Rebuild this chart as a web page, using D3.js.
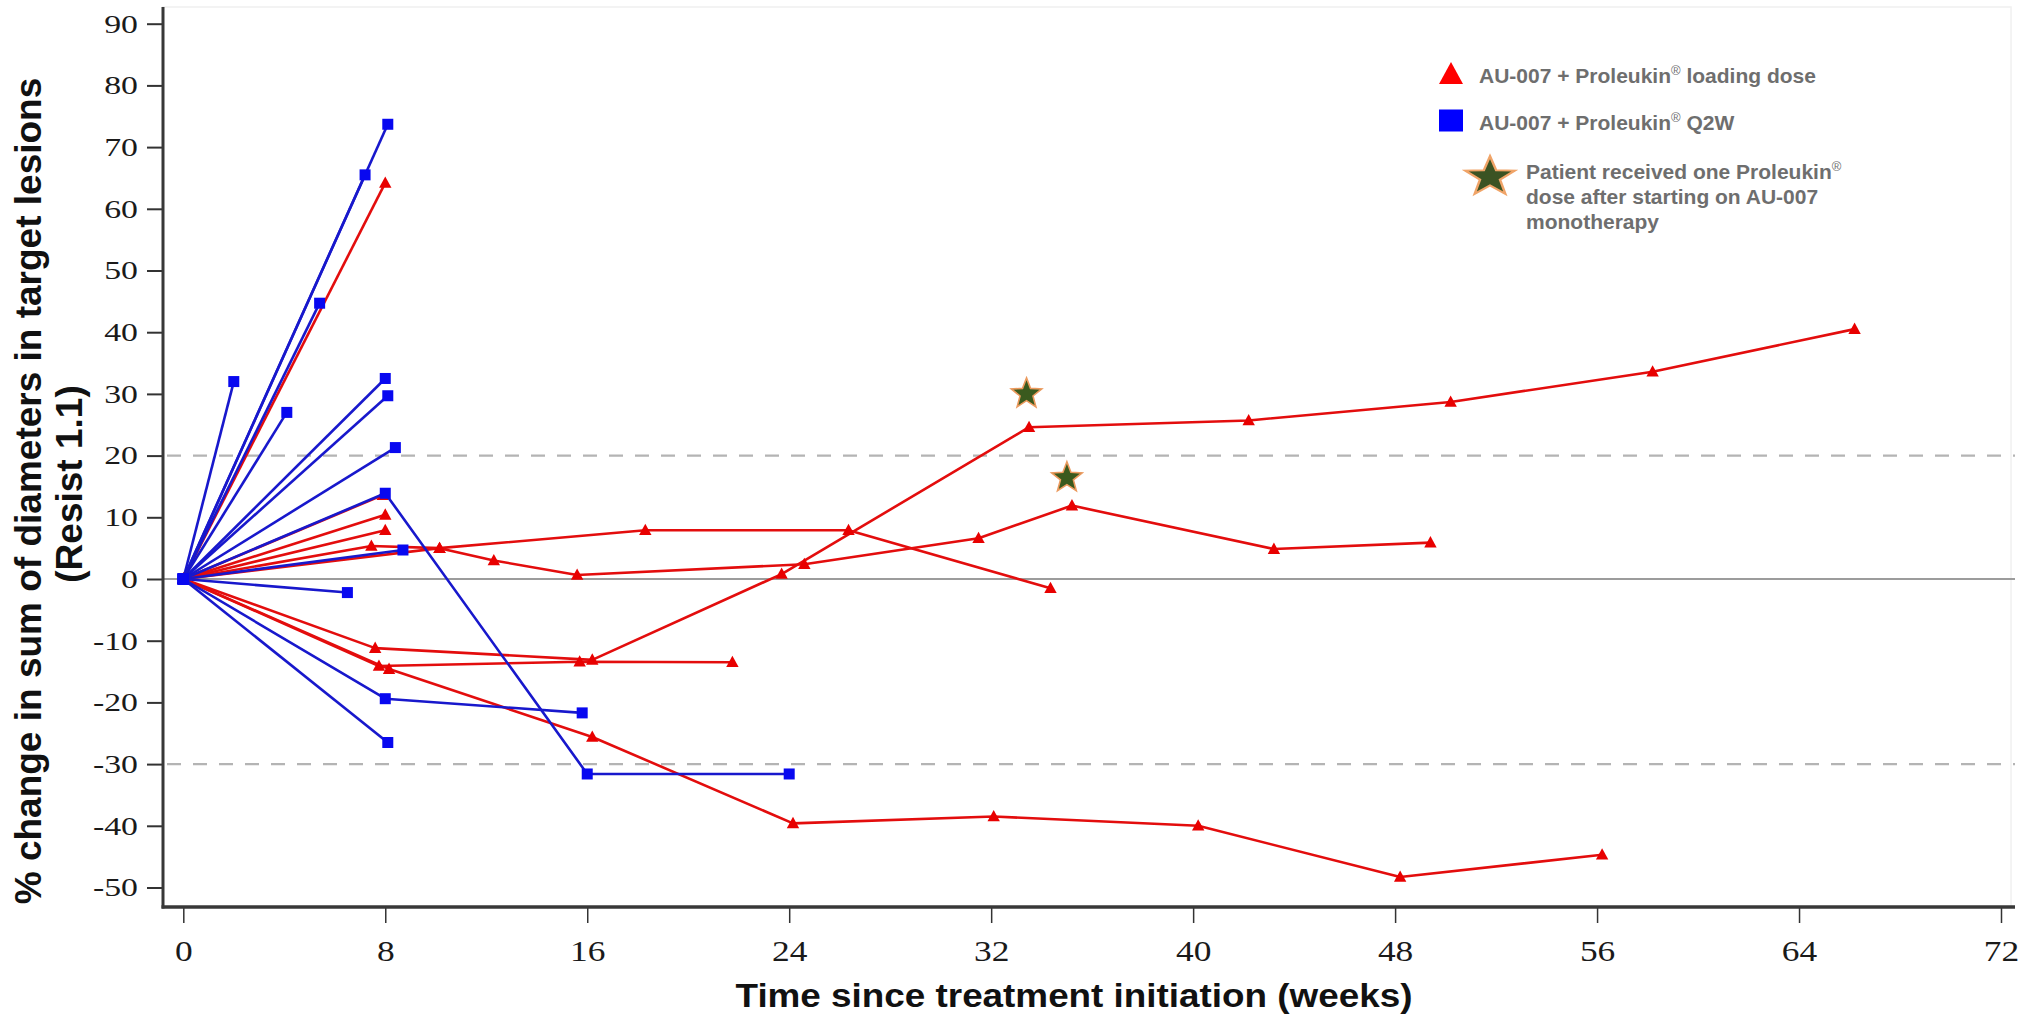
<!DOCTYPE html>
<html>
<head>
<meta charset="UTF-8">
<title>AU-007 target lesions</title>
<script src="https://cdn.jsdelivr.net/npm/d3@7"></script>
<style>
  body { margin: 0; background: #fff; }
  svg { display: block; }
</style>
</head>
<body>
<div id="chart"></div>
<script>
// [weeks, % change] per patient, AU-007 + Proleukin loading dose (red)
const loadingDose = [
  [[0, 0], [8.0, 64.2]],
  [[0, 0], [7.9, 13.6]],
  [[0, 0], [8.0, 10.4]],
  [[0, 0], [8.0, 7.9]],
  [[0, 0], [7.45, 5.35], [10.15, 5.0], [18.3, 7.9], [26.35, 7.9], [34.35, -1.5]],
  [[0, 0], [10.15, 5.0], [12.3, 3.0], [15.6, 0.65], [24.6, 2.4], [31.5, 6.6], [35.2, 11.9], [43.2, 4.85], [49.4, 5.9]],
  [[0, 0], [7.6, -11.2], [16.2, -13.1], [23.7, 0.8], [33.5, 24.6], [42.2, 25.7], [50.2, 28.7], [58.2, 33.6], [66.2, 40.5]],
  [[0, 0], [7.75, -14.1], [15.7, -13.4], [21.75, -13.5]],
  [[0, 0], [8.15, -14.6], [16.2, -25.6], [24.15, -39.6], [32.1, -38.5], [40.2, -40.0], [48.2, -48.3], [56.2, -44.7]]
];

// AU-007 + Proleukin Q2W (blue)
const q2w = [
  [[0, 0], [2.0, 32.0]],
  [[0, 0], [4.1, 27.0]],
  [[0, 0], [5.4, 44.7]],
  [[0, 0], [7.2, 65.5]],
  [[0, 0], [8.1, 73.7]],
  [[0, 0], [8.0, 32.5]],
  [[0, 0], [8.1, 29.7]],
  [[0, 0], [8.4, 21.3]],
  [[0, 0], [8.0, 13.9], [16.0, -31.6], [24.0, -31.6]],
  [[0, 0], [8.7, 4.7]],
  [[0, 0], [6.5, -2.2]],
  [[0, 0], [8.0, -19.4], [15.8, -21.7]],
  [[0, 0], [8.1, -26.5]]
];

// one Proleukin dose after AU-007 monotherapy
const stars = [[33.4, 30.0], [35.0, 16.4]];

const xTicks = [0, 8, 16, 24, 32, 40, 48, 56, 64, 72];
const yTicks = [-50, -40, -30, -20, -10, 0, 10, 20, 30, 40, 50, 60, 70, 80, 90];
const dashedLines = [20, -30];
const legendLabels = ["AU-007 + Proleukin", "AU-007 + Proleukin", "Patient received one Proleukin"];

const red = "#e30d0d", blue = "#1818cc";

const svg = d3.select("#chart").append("svg")
  .attr("width", 2023)
  .attr("height", 1019)
  .style("background", "#fff");

const x = d3.scaleLinear().domain([0, 72]).range([183.3, 2001]);
const y = d3.scaleLinear().domain([-50, 90]).range([887.5, 23.7]);

const plotLeft = 163, plotRight = 2015, plotTop = 7, plotBottom = 907;

// faint plot frame
svg.append("rect")
  .attr("x", plotLeft).attr("y", plotTop)
  .attr("width", plotRight - plotLeft - 4).attr("height", plotBottom - plotTop)
  .attr("fill", "none").attr("stroke", "#f0f0f0").attr("stroke-width", 1.5);

// reference lines
svg.append("line")
  .attr("x1", plotLeft).attr("x2", plotRight)
  .attr("y1", y(0)).attr("y2", y(0))
  .attr("stroke", "#9c9c9c").attr("stroke-width", 2);

dashedLines.forEach(v => {
  svg.append("line")
    .attr("x1", plotLeft + 4).attr("x2", plotRight)
    .attr("y1", y(v)).attr("y2", y(v))
    .attr("stroke", "#b4b4b4").attr("stroke-width", 2.2)
    .attr("stroke-dasharray", "14,12");
});

// y axis
const yAxis = svg.append("g")
  .attr("transform", `translate(${plotLeft},0)`)
  .call(d3.axisLeft(y).tickValues(yTicks).tickSize(16).tickPadding(9).tickFormat(d3.format("d")));
yAxis.select(".domain").remove();
yAxis.selectAll(".tick line").attr("stroke", "#333").attr("stroke-width", 2);
yAxis.selectAll(".tick text")
  .attr("x", -25 / 1.3)
  .attr("transform", "scale(1.3,1)")
  .attr("fill", "#1a1a1a")
  .style("font-family", "'Liberation Serif', 'Times New Roman', serif")
  .style("font-size", "26px")
  .text(d => d < 0 ? "-" + Math.abs(d) : d);

// x axis
const xAxis = svg.append("g")
  .attr("transform", `translate(0,${plotBottom})`)
  .call(d3.axisBottom(x).tickValues(xTicks).tickSize(16).tickPadding(17));
xAxis.select(".domain").remove();
xAxis.selectAll(".tick line").attr("stroke", "#333").attr("stroke-width", 1.5);
xAxis.selectAll(".tick text")
  .attr("transform", "scale(1.2,1)")
  .attr("fill", "#1a1a1a")
  .style("font-family", "'Liberation Serif', 'Times New Roman', serif")
  .style("font-size", "29.5px");

// axis lines
svg.append("line")
  .attr("x1", plotLeft).attr("x2", plotLeft)
  .attr("y1", plotTop).attr("y2", plotBottom + 1.5)
  .attr("stroke", "#383838").attr("stroke-width", 3);
svg.append("line")
  .attr("x1", plotLeft - 1.5).attr("x2", plotRight)
  .attr("y1", plotBottom).attr("y2", plotBottom)
  .attr("stroke", "#383838").attr("stroke-width", 3.5);

// series
const line = d3.line().x(d => x(d[0])).y(d => y(d[1]));
const triPath = "M0,-6.5L6.2,4.8L-6.2,4.8Z";

function drawRed(series) {
  series.forEach(s => {
    svg.append("path").datum(s)
      .attr("fill", "none").attr("stroke", red).attr("stroke-width", 2.6)
      .attr("stroke-linejoin", "round")
      .attr("d", line);
  });
  series.forEach(s => {
    svg.append("g").selectAll("path").data(s).join("path")
      .attr("d", triPath)
      .attr("transform", d => `translate(${x(d[0])},${y(d[1])})`)
      .attr("fill", "#e80000");
  });
}

function drawBlue(series) {
  series.forEach(s => {
    svg.append("path").datum(s)
      .attr("fill", "none").attr("stroke", blue).attr("stroke-width", 2.6)
      .attr("stroke-linejoin", "round")
      .attr("d", line);
  });
  series.forEach(s => {
    svg.append("g").selectAll("rect").data(s).join("rect")
      .attr("x", d => x(d[0]) - 5.5)
      .attr("y", d => y(d[1]) - 5.5)
      .attr("width", 11).attr("height", 11)
      .attr("fill", "#0808f0");
  });
}

drawRed(loadingDose);
drawBlue(q2w);

function starPath(R, r) {
  const pts = [];
  for (let i = 0; i < 10; i++) {
    const a = -Math.PI / 2 + i * Math.PI / 5;
    const rad = i % 2 ? r : R;
    pts.push([rad * Math.cos(a), rad * Math.sin(a)].map(v => v.toFixed(2)).join(","));
  }
  return "M" + pts.join("L") + "Z";
}

svg.selectAll(".star").data(stars).join("path")
  .attr("class", "star")
  .attr("d", starPath(16, 6.8))
  .attr("transform", d => `translate(${x(d[0])},${y(d[1])})`)
  .attr("fill", "#3a5a1e")
  .attr("stroke", "#eb9a5e")
  .attr("stroke-width", 1.6);

// axis titles
svg.append("text")
  .attr("transform", "translate(1074,1007) scale(1.1,1)")
  .attr("text-anchor", "middle")
  .style("font-family", "'Liberation Sans', Arial, sans-serif")
  .style("font-weight", "bold")
  .style("font-size", "33.5px")
  .attr("fill", "#111")
  .text("Time since treatment initiation (weeks)");

svg.append("text")
  .attr("transform", "translate(41,491) rotate(-90)")
  .attr("text-anchor", "middle")
  .style("font-family", "'Liberation Sans', Arial, sans-serif")
  .style("font-weight", "bold")
  .style("font-size", "37px")
  .attr("fill", "#111")
  .text("% change in sum of diameters in target lesions");

svg.append("text")
  .attr("transform", "translate(82,484) rotate(-90)")
  .attr("text-anchor", "middle")
  .style("font-family", "'Liberation Sans', Arial, sans-serif")
  .style("font-weight", "bold")
  .style("font-size", "37px")
  .attr("fill", "#111")
  .text("(Resist 1.1)");

// legend
const legend = svg.append("g")
  .style("font-family", "'Liberation Sans', Arial, sans-serif")
  .style("font-weight", "bold")
  .style("font-size", "21px")
  .attr("fill", "#6e6e6e");

legend.append("path")
  .attr("d", "M0,-11L12,11L-12,11Z")
  .attr("transform", "translate(1451,73)")
  .attr("fill", "#ff0000");
legend.append("rect")
  .attr("x", 1439).attr("y", 109.5)
  .attr("width", 24).attr("height", 22)
  .attr("fill", "#0000ff");
legend.append("path")
  .attr("d", starPath(26, 10.5))
  .attr("transform", "translate(1490,177) scale(1,0.8)")
  .attr("fill", "#3b5323")
  .attr("stroke", "#f0a468")
  .attr("stroke-width", 2.5);

function addLabel(xPos, yPos, pre, post) {
  const t = legend.append("text").attr("x", xPos).attr("y", yPos);
  t.append("tspan").text(pre);
  t.append("tspan").attr("dy", -8).style("font-size", "13px").style("font-weight", "normal").text("®");
  if (post) t.append("tspan").attr("dy", 8).text(post);
}

addLabel(1479, 83, legendLabels[0], " loading dose");
addLabel(1479, 130, legendLabels[1], " Q2W");
addLabel(1526, 179, legendLabels[2], null);
legend.append("text").attr("x", 1526).attr("y", 204).text("dose after starting on AU-007");
legend.append("text").attr("x", 1526).attr("y", 229).text("monotherapy");
</script>
</body>
</html>
